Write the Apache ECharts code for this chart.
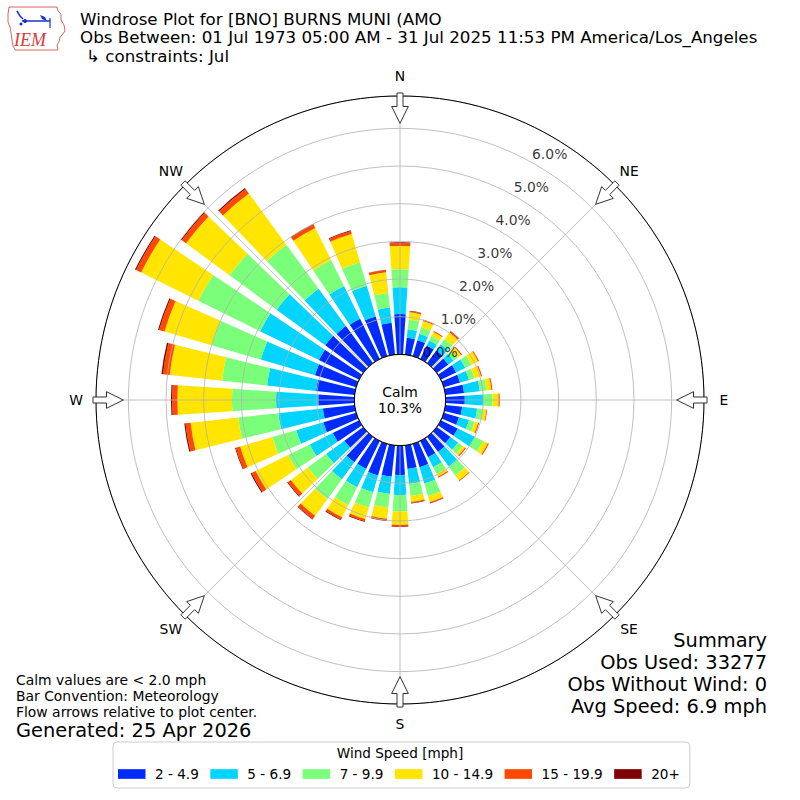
<!DOCTYPE html>
<html>
<head>
<meta charset="utf-8">
<script src="https://cdn.jsdelivr.net/npm/echarts@6/dist/echarts.min.js"></script>
<style>html,body{margin:0;padding:0;background:#fff}#chart{width:800px;height:800px}</style>
</head>
<body>
<div id="chart"></div>
<script>
// ---- data (percent of observations per 10-degree direction bin) ----
const directions = ['0','10','20','30','40','50','60','70','80','90','100','110','120','130','140','150','160','170',
  '180','190','200','210','220','230','240','250','260','270','280','290','300','310','320','330','340','350'];
const speedBins = ['2 - 4.9', '5 - 6.9', '7 - 9.9', '10 - 14.9', '15 - 19.9', '20+'];
const binColors = ['#002bff', '#00d4ff', '#7bff7b', '#ffe500', '#ff4900', '#800000'];
const spd2to5   = [1.07,0.45,0.44,0.40,0.42,0.38,0.45,0.45,0.50,0.51,0.45,0.42,0.50,0.45,0.50,0.48,0.65,0.63,
                   0.78,0.84,0.88,0.83,0.84,0.62,0.78,0.91,0.85,0.96,1.03,1.14,1.19,1.25,1.22,1.19,1.10,0.85];
const spd5to7   = [0.71,0.23,0.18,0.15,0.20,0.17,0.27,0.25,0.42,0.49,0.40,0.28,0.50,0.25,0.48,0.30,0.45,0.40,
                   0.53,0.46,0.46,0.54,0.56,0.60,0.68,0.75,1.19,1.12,1.31,1.50,1.74,1.60,1.23,0.97,0.85,0.41];
const spd7to10  = [0.48,0.26,0.18,0.13,0.18,0.13,0.18,0.15,0.18,0.25,0.17,0.15,0.25,0.15,0.29,0.20,0.35,0.32,
                   0.44,0.36,0.42,0.53,0.65,0.60,0.64,0.66,1.07,1.17,1.20,1.36,1.83,1.55,1.45,0.77,0.65,0.39];
const spd10to15 = [0.62,0.19,0.17,0.12,0.21,0.12,0.20,0.18,0.13,0.16,0.08,0.10,0.14,0.08,0.17,0.08,0.16,0.16,
                   0.35,0.30,0.32,0.36,0.55,0.56,0.96,0.89,1.27,1.45,1.40,1.30,1.69,1.43,1.68,0.95,0.78,0.55];
const spd15to20 = [0.08,0.03,0.03,0.03,0.04,0.03,0.03,0.03,0.03,0.03,0.02,0.03,0.03,0.03,0.02,0.03,0.03,0.03,
                   0.05,0.05,0.06,0.07,0.10,0.10,0.12,0.12,0.14,0.14,0.18,0.15,0.15,0.14,0.15,0.10,0.08,0.06];
const spd20up   = [0.02,0.01,0.01,0.00,0.01,0.00,0.00,0.00,0.00,0.00,0.00,0.00,0.00,0.00,0.00,0.00,0.01,0.01,
                   0.01,0.01,0.02,0.02,0.02,0.02,0.03,0.02,0.03,0.03,0.04,0.03,0.03,0.03,0.03,0.02,0.02,0.01];
const ringTicks = [0, 1, 2, 3, 4, 5, 6];
const compassLabels = ['N', 'NE', 'E', 'SE', 'S', 'SW', 'W', 'NW'];
const compassAngles = [0, 45, 90, 135, 180, 225, 270, 315];
const calmPct = 10.3;
const radiusMax = 6.86;
const ringLabelAngle = 29;

const seriesValues = [spd2to5, spd5to7, spd7to10, spd10to15, spd15to20, spd20up];
const FONT = "'DejaVu Sans', sans-serif";

const chart = echarts.init(document.getElementById('chart'), null, {renderer: 'svg', width: 800, height: 800});

const barSeries = speedBins.map((name, i) => ({
  type: 'bar', name: name, coordinateSystem: 'polar', polarIndex: 0, stack: 'wind',
  data: seriesValues[i], barCategoryGap: '24%',
  itemStyle: {color: binColors[i]}, emphasis: {disabled: true}, silent: true, z: 2
}));

function txt(text, x, y, size, align, extra) {
  return Object.assign({
    type: 'text', x: x, y: y, silent: true, z: 50,
    style: {text: text, font: size + 'px ' + FONT, fill: '#000', lineHeight: Math.round(size),
      align: align || 'left', verticalAlign: 'middle', textAlign: align || 'left', textVerticalAlign: 'middle'}
  }, extra || {});
}

const option = {
  animation: false,
  backgroundColor: '#fff',
  polar: [
    {center: ['50%', '50%'], radius: [45.6, 304]},
    {center: ['50%', '50%'], radius: [45.6, 304]}
  ],
  angleAxis: [
    {polarIndex: 0, type: 'category', data: directions, startAngle: 95, clockwise: true,
     axisLine: {show: false}, axisTick: {show: false}, axisLabel: {show: false}, splitLine: {show: false}},
    {polarIndex: 1, type: 'value', min: 0, max: 360, interval: 45, startAngle: 90, clockwise: true, z: 10,
     axisLine: {show: true, lineStyle: {color: '#000', width: 1}}, axisTick: {show: false},
     axisLabel: {show: false}, splitLine: {show: true, lineStyle: {color: '#b0b0b0', width: 0.8}}}
  ],
  radiusAxis: [
    {polarIndex: 0, type: 'value', min: 0, max: radiusMax,
     axisLine: {show: false}, axisTick: {show: false}, axisLabel: {show: false}, splitLine: {show: false}},
    {polarIndex: 1, type: 'value', min: 0, max: radiusMax, interval: 1, z: 9,
     axisLine: {show: false}, axisTick: {show: false}, axisLabel: {show: false},
     splitLine: {show: true, lineStyle: {color: '#b0b0b0', width: 0.8}}}
  ],
  legend: {
    data: speedBins, left: 113, top: 742, orient: 'horizontal',
    padding: [25, 10, 7, 5], itemWidth: 27.5, itemHeight: 9.7, itemGap: 11.5, icon: 'rect',
    borderColor: '#cccccc', borderWidth: 1, borderRadius: 4, backgroundColor: 'rgba(255,255,255,0.8)',
    textStyle: {fontFamily: FONT, fontSize: 13.6, color: '#000', padding: [0, 0, 0, 4.5]},
    selectedMode: false
  },
  series: barSeries.concat([
    {
      type: 'custom', coordinateSystem: 'polar', polarIndex: 1, silent: true, z: 20,
      data: [[0, 0]],
      renderItem: function (params, api) {
        const cs = params.coordSys;
        return {type: 'group', children: [
          {type: 'circle', shape: {cx: cs.cx, cy: cs.cy, r: cs.r0},
           style: {fill: '#fff', stroke: '#000', lineWidth: 1}},
          {type: 'text', x: cs.cx, y: cs.cy,
           style: {text: 'Calm\n' + calmPct.toFixed(1) + '%', font: '13.9px ' + FONT, fill: '#000',
                   align: 'center', verticalAlign: 'middle', lineHeight: 16}}
        ]};
      }
    },
    {
      type: 'custom', coordinateSystem: 'polar', polarIndex: 1, silent: true, z: 21,
      data: compassAngles.map(a => [radiusMax, a]),
      renderItem: function (params, api) {
        const cs = params.coordSys;
        const p = api.coord([api.value(0), api.value(1)]);
        const dx = p[0] - cs.cx, dy = p[1] - cs.cy;
        const L = Math.hypot(dx, dy) || 1;
        const ux = dx / L, uy = dy / L, vx = -uy, vy = ux;
        const R = cs.r;
        const pt = (rr, w) => [cs.cx + ux * rr + vx * w, cs.cy + uy * rr + vy * w];
        const tail = R + 3, neck = R - 10.5, tip = R - 27.3;
        const pts = [pt(tail, -3), pt(neck, -3), pt(neck, -8.3), pt(tip, 0), pt(neck, 8.3), pt(neck, 3), pt(tail, 3)];
        const lp = pt(R + 20, 0);
        return {type: 'group', children: [
          {type: 'polygon', shape: {points: pts}, style: {fill: '#fff', stroke: '#333', lineWidth: 1}},
          {type: 'text', x: lp[0], y: lp[1],
           style: {text: compassLabels[params.dataIndex], font: '13.9px ' + FONT, fill: '#000',
                   align: 'center', verticalAlign: 'middle'}}
        ]};
      }
    },
    {
      type: 'scatter', coordinateSystem: 'polar', polarIndex: 1, silent: true, z: 22,
      symbolSize: 0, data: ringTicks.map(t => [t, ringLabelAngle]),
      label: {show: true, position: 'inside', offset: [18, -8], color: '#000',
              fontFamily: FONT, fontSize: 13.9,
              formatter: p => p.value[0].toFixed(1) + '%'}
    }
  ]),
  graphic: [
    // IEM logo (decoration)
    {type: 'polyline', silent: true, z: 50,
     shape: {points: [[9,7],[57,7],[58,11],[61,14],[61,20],[64,25],[65,31],[62,35],[60,37],[59,42],[57,45],[58,50],[15,50],[13,46],[12,40],[11,33],[10,27],[8,22],[8,14],[9,7]]},
     style: {stroke: '#d23c3c', lineWidth: 0.8, fill: 'none'}},
    {type: 'polyline', silent: true, z: 50, shape: {points: [[17,11],[20,16],[23,19]]}, style: {stroke: '#1c2fd0', lineWidth: 1.5, fill: 'none'}},
    {type: 'polyline', silent: true, z: 50, shape: {points: [[22,21],[50,21]]}, style: {stroke: '#1c2fd0', lineWidth: 1.5, fill: 'none'}},
    {type: 'circle', silent: true, z: 50, shape: {cx: 25, cy: 21, r: 2}, style: {fill: '#1c2fd0'}},
    {type: 'polygon', silent: true, z: 50, shape: {points: [[40,15],[45,17],[47,21],[42,19]]}, style: {fill: '#1c2fd0'}},
    {type: 'polyline', silent: true, z: 50, shape: {points: [[50,18],[50,28]]}, style: {stroke: '#1c2fd0', lineWidth: 1.2, fill: 'none'}},
    {type: 'circle', silent: true, z: 50, shape: {cx: 21, cy: 24, r: 1.5}, style: {fill: '#1c2fd0'}},
    txt('IEM', 14, 40, 17, 'left', {style: {text: 'IEM', font: 'italic 18px "Liberation Serif", serif', fill: '#d23c3c', align: 'left', verticalAlign: 'middle', lineHeight: 18}}),
    // titles
    txt('Windrose Plot for [BNO] BURNS MUNI (AMO', 80, 19, 16.7),
    txt('Obs Between: 01 Jul 1973 05:00 AM - 31 Jul 2025 11:53 PM America/Los_Angeles', 80, 37, 16.7),
    txt('\u21b3 constraints: Jul', 86, 55.5, 16.7),
    // bottom-left notes
    txt('Calm values are < 2.0 mph', 16, 680, 13.9),
    txt('Bar Convention: Meteorology', 16, 696, 13.9),
    txt('Flow arrows relative to plot center.', 16, 712, 13.9),
    txt('Generated: 25 Apr 2026', 16, 730, 19.4),
    // summary
    txt('Summary', 767, 640, 19.4, 'right'),
    txt('Obs Used: 33277', 767, 662, 19.4, 'right'),
    txt('Obs Without Wind: 0', 767, 684, 19.4, 'right'),
    txt('Avg Speed: 6.9 mph', 767, 706, 19.4, 'right'),
    // legend title
    txt('Wind Speed [mph]', 400, 753, 13.6, 'center')
  ]
};
chart.setOption(option);
</script>
</body>
</html>
